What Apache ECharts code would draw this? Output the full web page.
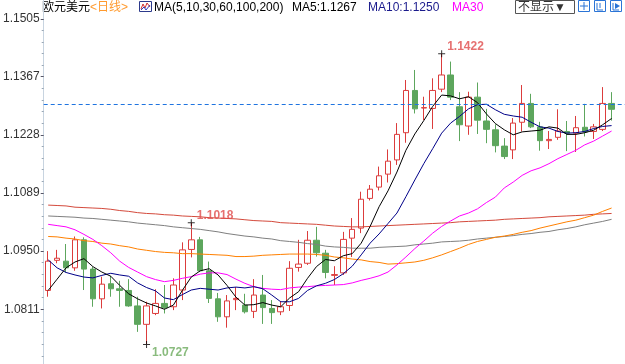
<!DOCTYPE html>
<html><head><meta charset="utf-8">
<script src="https://cdn.jsdelivr.net/npm/echarts@6/dist/echarts.min.js"></script>
<style>html,body{margin:0;padding:0;background:#fff}#c{width:625px;height:364px}</style>
</head><body><div id="c"></div>
<script>
// ---- data (EUR/USD daily) ----
const opens  = [1.0856,1.0928,1.0926,1.0910,1.0977,1.0907,1.0836,1.0872,1.0860,1.0856,
                1.0819,1.0775,1.0801,1.0825,1.0817,1.0857,1.0954,1.0977,1.0903,1.0836,
                1.0793,1.0834,1.0821,1.0806,1.0845,1.0813,1.0805,1.0820,1.0911,1.0921,
                1.0976,1.0945,1.0892,1.0898,1.0981,1.1005,1.1076,1.1103,1.1134,1.1168,
                1.1233,1.1334,1.1292,1.1291,1.1337,1.1371,1.1295,1.1249,1.1318,1.1261,
                1.1240,1.1201,1.1192,1.1258,1.1303,1.1247,1.1214,1.1222,1.1236,1.1232,
                1.1246,1.1236,1.1241,1.1303];
const closes = [1.0926,1.0933,1.0910,1.0977,1.0907,1.0836,1.0871,1.0860,1.0856,1.0819,
                1.0775,1.0819,1.0825,1.0815,1.0869,1.0953,1.0977,1.0903,1.0837,1.0793,
                1.0831,1.0837,1.0805,1.0845,1.0815,1.0803,1.0817,1.0909,1.0919,1.0976,
                1.0946,1.0899,1.0894,1.0978,1.1002,1.1074,1.1098,1.1130,1.1165,1.1229,
                1.1334,1.1290,1.1293,1.1334,1.1371,1.1318,1.1252,1.1318,1.1263,1.1241,
                1.1202,1.1176,1.1256,1.1303,1.1247,1.1214,1.1217,1.1237,1.1232,1.1245,
                1.1235,1.1247,1.1303,1.1289];
const lows   = [1.0841,1.0921,1.0899,1.0903,1.0857,1.0817,1.0813,1.0841,1.0817,1.0817,
                1.0757,1.0727,1.0797,1.0801,1.0809,1.0833,1.0935,1.0900,1.0826,1.0781,
                1.0767,1.0809,1.0801,1.0790,1.0776,1.0776,1.0797,1.0807,1.0901,1.0917,
                1.0937,1.0885,1.0869,1.0893,1.0936,1.0993,1.1071,1.1095,1.1114,1.1156,
                1.1209,1.1279,1.1263,1.1242,1.1330,1.1311,1.1213,1.1228,1.1230,1.1208,
                1.1186,1.1170,1.1170,1.1236,1.1244,1.1190,1.1194,1.1216,1.1189,1.1187,
                1.1224,1.1218,1.1237,1.1262];
const highs  = [1.0950,1.0953,1.0967,1.0985,1.0983,1.0912,1.0889,1.0891,1.0879,1.0883,
                1.0841,1.0829,1.0859,1.0869,1.0885,1.0971,1.1018,1.0984,1.0925,1.0850,
                1.0845,1.0864,1.0848,1.0883,1.0893,1.0833,1.0831,1.0926,1.0977,1.0998,
                1.1008,1.0953,1.0914,1.0996,1.1029,1.1092,1.1108,1.1152,1.1193,1.1256,
                1.1359,1.1383,1.1319,1.1363,1.1422,1.1403,1.1330,1.1331,1.1353,1.1290,
                1.1253,1.1220,1.1268,1.1347,1.1326,1.1259,1.1237,1.1289,1.1261,1.1273,
                1.1302,1.1254,1.1342,1.1330];
const ma5    = [1.0856,1.0883,1.0910,1.0924,1.0932,1.0913,1.0900,1.0890,1.0868,1.0848,
                1.0836,1.0826,1.0819,1.0811,1.0821,1.0856,1.0888,1.0903,1.0908,1.0893,
                1.0868,1.0840,1.0821,1.0822,1.0827,1.0821,1.0817,1.0838,1.0853,1.0885,
                1.0913,1.0930,1.0927,1.0939,1.0944,1.0969,1.1009,1.1056,1.1094,1.1139,
                1.1191,1.1230,1.1262,1.1296,1.1323,1.1321,1.1314,1.1319,1.1305,1.1278,
                1.1255,1.1240,1.1228,1.1235,1.1237,1.1239,1.1247,1.1244,1.1229,1.1229,
                1.1233,1.1239,1.1252,1.1267];
const ma10   = [1.0929,1.0910,1.0899,1.0893,1.0888,1.0886,1.0892,1.0897,1.0893,1.0890,
                1.0874,1.0863,1.0855,1.0838,1.0834,1.0846,1.0857,1.0861,1.0859,1.0857,
                1.0862,1.0864,1.0862,1.0865,1.0860,1.0845,1.0829,1.0829,1.0837,1.0856,
                1.0867,1.0873,1.0882,1.0896,1.0914,1.0941,1.0969,1.0991,1.1016,1.1041,
                1.1080,1.1120,1.1159,1.1195,1.1232,1.1256,1.1272,1.1290,1.1300,1.1301,
                1.1288,1.1277,1.1273,1.1270,1.1258,1.1247,1.1244,1.1236,1.1232,1.1233,
                1.1236,1.1243,1.1248,1.1250];
const ma30   = [1.1014,1.1011,1.1008,1.1001,1.0990,1.0978,1.0963,1.0946,1.0926,1.0911,
                1.0900,1.0889,1.0882,1.0877,1.0880,1.0885,1.0889,1.0895,1.0898,1.0898,
                1.0894,1.0883,1.0873,1.0865,1.0861,1.0859,1.0858,1.0862,1.0864,1.0865,
                1.0867,1.0868,1.0869,1.0870,1.0874,1.0880,1.0885,1.0891,1.0900,1.0917,
                1.0936,1.0956,1.0974,1.0993,1.1009,1.1022,1.1034,1.1041,1.1051,1.1066,
                1.1079,1.1101,1.1115,1.1131,1.1142,1.1149,1.1159,1.1171,1.1181,1.1191,
                1.1204,1.1213,1.1225,1.1237];
const ma60   = [1.0985,1.0984,1.0981,1.0979,1.0975,1.0973,1.0969,1.0967,1.0963,1.0960,
                1.0955,1.0952,1.0949,1.0947,1.0946,1.0944,1.0944,1.0943,1.0942,1.0941,
                1.0940,1.0937,1.0937,1.0938,1.0940,1.0941,1.0942,1.0943,1.0943,1.0943,
                1.0942,1.0940,1.0936,1.0934,1.0931,1.0929,1.0925,1.0923,1.0919,1.0920,
                1.0922,1.0924,1.0928,1.0934,1.0941,1.0949,1.0957,1.0966,1.0973,1.0978,
                1.0983,1.0986,1.0990,1.0995,1.0999,1.1005,1.1010,1.1015,1.1020,1.1024,
                1.1030,1.1036,1.1045,1.1053];
const ma100  = [1.1034,1.1033,1.1032,1.1031,1.1029,1.1028,1.1026,1.1024,1.1022,1.1020,
                1.1017,1.1015,1.1013,1.1011,1.1008,1.1006,1.1004,1.1002,1.0999,1.0996,
                1.0992,1.0989,1.0986,1.0984,1.0981,1.0979,1.0975,1.0973,1.0971,1.0968,
                1.0966,1.0962,1.0960,1.0959,1.0957,1.0957,1.0957,1.0959,1.0960,1.0961,
                1.0962,1.0965,1.0967,1.0969,1.0972,1.0973,1.0974,1.0976,1.0979,1.0981,
                1.0983,1.0985,1.0987,1.0990,1.0992,1.0995,1.0997,1.1001,1.1004,1.1008,
                1.1013,1.1017,1.1021,1.1026];
const ma200  = [1.1060,1.1059,1.1058,1.1055,1.1054,1.1053,1.1052,1.1050,1.1047,1.1045,
                1.1042,1.1040,1.1039,1.1037,1.1036,1.1034,1.1033,1.1032,1.1030,1.1029,
                1.1028,1.1027,1.1025,1.1023,1.1022,1.1021,1.1018,1.1017,1.1016,1.1015,
                1.1014,1.1012,1.1010,1.1009,1.1008,1.1008,1.1009,1.1010,1.1011,1.1012,
                1.1013,1.1014,1.1015,1.1016,1.1017,1.1018,1.1020,1.1021,1.1022,1.1023,
                1.1024,1.1026,1.1027,1.1028,1.1029,1.1030,1.1032,1.1033,1.1034,1.1035,
                1.1036,1.1038,1.1039,1.1040];
const yTickLabels = [1.0811, 1.0950, 1.1089, 1.1228, 1.1367, 1.1505];
const highMarks = [16, 44];   // candle indexes whose high is annotated
const lowMarks  = [11];       // candle indexes whose low is annotated

// ---- build ----
const Y_MIN = 1.06802, Y_MAX = 1.15502;
const N = opens.length;
const cats = [];
for (let i = 0; i <= N; i++) cats.push('D' + (i + 1));   // one spare slot at the right
const kdata = opens.map((o, i) => [o, closes[i], lows[i], highs[i]]);
const minorTicks = [];
for (let i = 0; i < yTickLabels.length - 1; i++) {
  const a = yTickLabels[i], b = yTickLabels[i + 1];
  for (let k = 1; k < 5; k++) minorTicks.push(a + (b - a) * k / 5);
}
for (let k = 1; k < 5; k++) minorTicks.push(yTickLabels[0] - 0.00278 * k);

const FONT = '"Liberation Sans", "Noto Sans CJK SC", sans-serif';
const RED = '#dc3c3c', GREEN = '#5da65d';
const lastClose = closes[N - 1];

const markData = [];
highMarks.forEach(i => markData.push({value: [i, highs[i]], label: {color: '#e04c4c', offset: [0, -7]}}));
lowMarks.forEach(i => markData.push({value: [i, lows[i]], label: {color: '#6caa5c', offset: [0, 8]}}));

function maLine(name, data, color) {
  return {name, type: 'line', data, symbol: 'none', showSymbol: false, silent: true,
          lineStyle: {color, width: 1}, z: 3};
}

const headerTxt = (x, text, fill) => ({type: 'text', x, y: 8, silent: true,
  style: {text, fill, font: '12px ' + FONT, textVerticalAlign: 'middle'}});

const option = {
  animation: false,
  backgroundColor: '#ffffff',
  grid: {left: 40, right: 0, top: 0, bottom: 0},
  xAxis: {type: 'category', data: cats, show: false, boundaryGap: true},
  yAxis: [{
    type: 'value', min: Y_MIN, max: Y_MAX, position: 'left',
    splitLine: {show: false},
    axisLine: {show: true, lineStyle: {color: '#c8d4e0', width: 1}},
    axisTick: {show: true, customValues: yTickLabels, length: 3, lineStyle: {color: '#556'}},
    axisLabel: {customValues: yTickLabels, formatter: v => v.toFixed(4), color: '#333',
                fontSize: 12, fontFamily: FONT, margin: 4}
  }, {
    type: 'value', min: Y_MIN, max: Y_MAX, position: 'left',
    splitLine: {show: false}, axisLine: {show: false}, axisLabel: {show: false},
    axisTick: {show: true, customValues: minorTicks, length: 2, lineStyle: {color: '#9aa8b6'}}
  }],
  series: [
    {name: 'K', type: 'candlestick', data: kdata, barWidth: 6, z: 1, silent: true,
     itemStyle: {color: 'rgba(255,255,255,0)', color0: GREEN, borderColor: RED, borderColor0: GREEN, borderWidth: 1},
     markLine: {silent: true, symbol: ['none', 'none'], label: {show: false},
                lineStyle: {color: '#1f74e0', type: [4, 3], width: 1},
                data: [{yAxis: lastClose}]}},
    maLine('MA200', ma200, '#d44a3c'),
    maLine('MA100', ma100, '#7f7f7f'),
    maLine('MA60', ma60, '#ff8000'),
    maLine('MA30', ma30, '#ff00ff'),
    maLine('MA10', ma10, '#000088'),
    maLine('MA5', ma5, '#000000'),
    {name: 'extremes', type: 'scatter', data: markData, z: 6, silent: true,
     symbol: 'path://M3,0h1v7h-1z M0,3h7v1h-7z', symbolSize: 7,
     itemStyle: {color: '#000'},
     label: {show: true, position: 'right', distance: 2,
             formatter: p => p.value[1].toFixed(4),
             fontSize: 12, fontWeight: 'bold', fontFamily: FONT}}
  ],
  graphic: [
    headerTxt(42, '欧元美元', '#000'),
    headerTxt(90, '<日线>', '#ff9a2e'),
    {type: 'rect', silent: true, shape: {x: 139.5, y: 1.5, width: 12, height: 10},
     style: {fill: '#fff', stroke: '#2d3a8c', lineWidth: 1}},
    {type: 'polyline', silent: true, shape: {points: [[141, 9], [143, 4], [145, 8], [147, 3], [150, 7]]},
     style: {stroke: '#d03030', lineWidth: 1, fill: null}},
    {type: 'polyline', silent: true, shape: {points: [[141, 10], [144, 7], [146, 10], [150, 5]]},
     style: {stroke: '#3040c0', lineWidth: 1, fill: null}},
    headerTxt(154, 'MA(5,10,30,60,100,200)', '#000'),
    headerTxt(292, 'MA5:' + ma5[N - 1].toFixed(4), '#000'),
    headerTxt(368, 'MA10:' + ma10[N - 1].toFixed(4), '#1a1a8c'),
    headerTxt(452, 'MA30', '#ff00ff'),
    {type: 'rect', silent: true, shape: {x: 515.5, y: 0.5, width: 59, height: 13},
     style: {fill: '#fff', stroke: '#555', lineWidth: 1}},
    headerTxt(518, '不显示▼', '#333'),
    {type: 'rect', silent: true, shape: {x: 578.5, y: 0.5, width: 11, height: 11}, style: {fill: '#fff', stroke: '#2a74d6', lineWidth: 1}},
    {type: 'rect', silent: true, shape: {x: 594.5, y: 0.5, width: 11, height: 11}, style: {fill: '#fff', stroke: '#2a74d6', lineWidth: 1}},
    {type: 'rect', silent: true, shape: {x: 610.5, y: 0.5, width: 11, height: 11}, style: {fill: '#fff', stroke: '#2a74d6', lineWidth: 1}},
    {type: 'polyline', silent: true, shape: {points: [[584, 2], [584, 10]]}, style: {stroke: '#2a74d6', lineWidth: 1}},
    {type: 'polyline', silent: true, shape: {points: [[580, 6], [588, 6]]}, style: {stroke: '#2a74d6', lineWidth: 1}},
    {type: 'polyline', silent: true, shape: {points: [[597, 3], [597, 10], [603, 10]]}, style: {stroke: '#2a74d6', lineWidth: 1, fill: null}},
    {type: 'polyline', silent: true, shape: {points: [[600, 3], [600, 8]]}, style: {stroke: '#2a74d6', lineWidth: 1}},
    {type: 'polyline', silent: true, shape: {points: [[613, 3], [613, 10], [619, 10]]}, style: {stroke: '#2a74d6', lineWidth: 1, fill: null}},
    {type: 'polygon', silent: true, shape: {points: [[615, 3], [620, 6], [615, 9]]}, style: {fill: '#2a74d6'}}
  ]
};
const chart = echarts.init(document.getElementById('c'));
chart.setOption(option);
</script>
</body></html>
